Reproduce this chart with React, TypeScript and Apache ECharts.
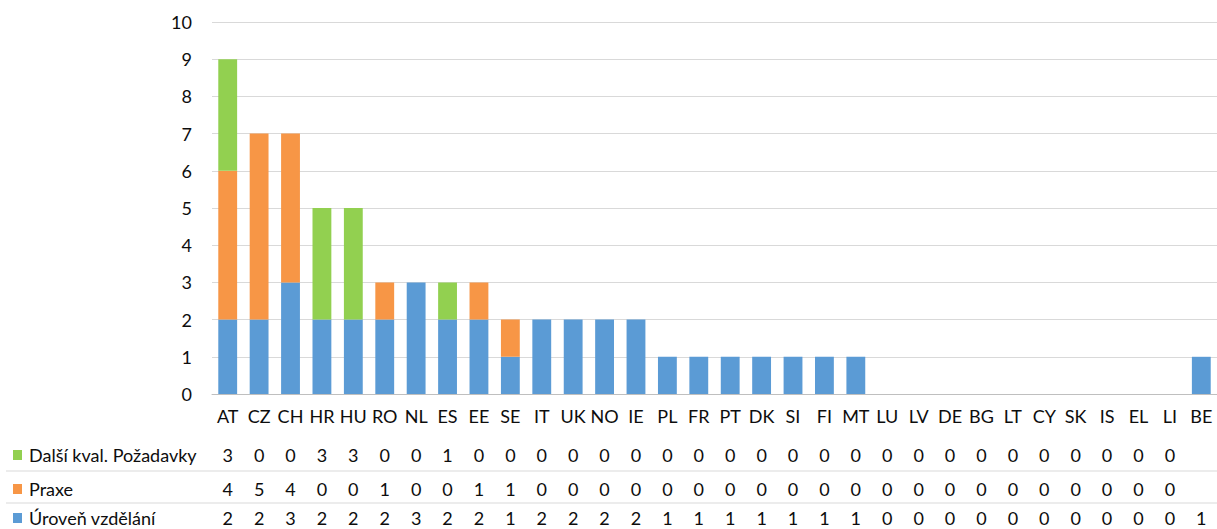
import React, { useEffect, useRef } from "react";
import * as echarts from "echarts";

const categories = ["AT","CZ","CH","HR","HU","RO","NL","ES","EE","SE","IT","UK","NO","IE","PL","FR","PT","DK","SI","FI","MT","LU","LV","DE","BG","LT","CY","SK","IS","EL","LI","BE"];
const seriesNames = ["Další kval. Požadavky", "Praxe", "Úroveň vzdělání"];
const dalsi: (number | null)[] = [3,0,0,3,3,0,0,1,0,0,0,0,0,0,0,0,0,0,0,0,0,0,0,0,0,0,0,0,0,0,0,null];
const praxe: (number | null)[] = [4,5,4,0,0,1,0,0,1,1,0,0,0,0,0,0,0,0,0,0,0,0,0,0,0,0,0,0,0,0,0,null];
const uroven: (number | null)[] = [2,2,3,2,2,2,3,2,2,1,2,2,2,2,1,1,1,1,1,1,1,0,0,0,0,0,0,0,0,0,0,1];
const yTicks = [0,1,2,3,4,5,6,7,8,9,10];

const colors = { dalsi: "#92D050", praxe: "#F79646", uroven: "#5B9BD5" };
const FONT = "Lato";
const FS = 18;
const TXT = "#0d0d0d";

export default function App() {
  const ref = useRef<HTMLDivElement>(null);
  useEffect(() => {
    if (!ref.current) return;
    const chart = echarts.init(ref.current, null, { renderer: "svg" });
    const gridTop = 22;
    const gridH = 372;
    const tableRows = [
      { name: seriesNames[0], data: dalsi, color: colors.dalsi, y: 455 },
      { name: seriesNames[1], data: praxe, color: colors.praxe, y: 489 },
      { name: seriesNames[2], data: uroven, color: colors.uroven, y: 518 },
    ];
    const labelMargin = 13;
    const countryCenter = 416;
    const extraAxes = tableRows.map((r) => ({
      type: "category",
      gridIndex: 0,
      position: "bottom",
      offset: r.y - countryCenter,
      data: r.data.map((v) => (v === null ? "" : String(v))),
      axisLine: { show: false },
      axisTick: { show: false },
      splitLine: { show: false },
      axisLabel: { interval: 0, margin: labelMargin, fontFamily: FONT, fontSize: FS, color: TXT },
    }));
    const graphics: any[] = [];
    tableRows.forEach((r) => {
      graphics.push({
        type: "rect",
        shape: { x: 13, y: r.y - 5, width: 9, height: 10 },
        style: { fill: r.color },
      });
      graphics.push({
        type: "text",
        x: 29,
        y: r.y,
        style: { text: r.name, fontFamily: FONT, fontSize: FS, fill: TXT, textVerticalAlign: "middle", verticalAlign: "middle" },
      });
    });
    [471, 503].forEach((y) => {
      graphics.push({
        type: "line",
        shape: { x1: 6, y1: y, x2: 1217, y2: y },
        style: { stroke: "#D9D9D9", lineWidth: 1 },
      });
    });
    chart.setOption({
      animation: false,
      grid: { left: 212, top: gridTop, width: 1008, height: gridH, containLabel: false },
      xAxis: [
        {
          type: "category",
          data: categories,
          axisLine: { show: true, lineStyle: { color: "#BFBFBF", width: 1 } },
          axisTick: { show: false },
          axisLabel: { interval: 0, margin: labelMargin, fontFamily: FONT, fontSize: FS, color: TXT },
        },
        ...extraAxes,
      ],
      yAxis: {
        type: "value",
        min: 0,
        max: yTicks[yTicks.length - 1],
        interval: 1,
        axisLine: { show: false },
        axisTick: { show: false },
        axisLabel: { margin: 20, fontFamily: FONT, fontSize: FS, color: TXT },
        splitLine: { lineStyle: { color: "#D9D9D9", width: 1 } },
      },
      graphic: graphics,
      series: [
        { name: seriesNames[2], type: "bar", stack: "s", data: uroven, barWidth: "60%", itemStyle: { color: colors.uroven } },
        { name: seriesNames[1], type: "bar", stack: "s", data: praxe, barWidth: "60%", itemStyle: { color: colors.praxe } },
        { name: seriesNames[0], type: "bar", stack: "s", data: dalsi, barWidth: "60%", itemStyle: { color: colors.dalsi } },
      ],
    });
    return () => chart.dispose();
  }, []);
  return (
    <div
      ref={ref}
      style={{ position: "fixed", left: 0, top: 0, width: 1217, height: 529, background: "#fff" }}
    />
  );
}
